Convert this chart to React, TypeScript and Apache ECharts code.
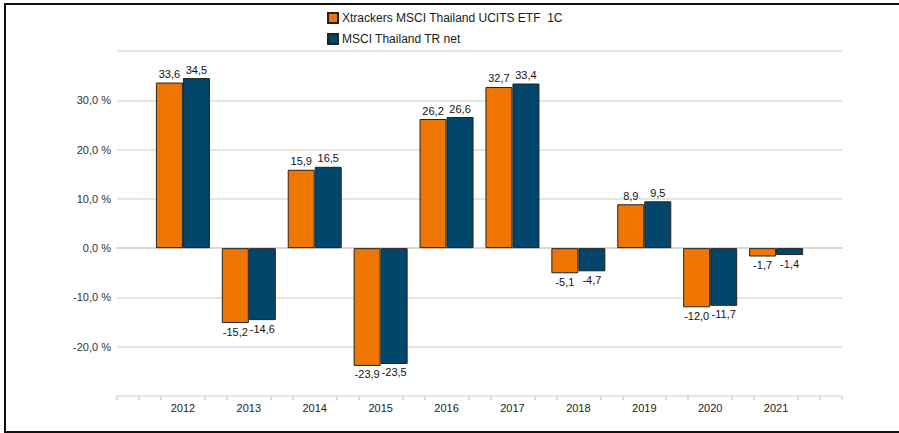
import React, { useEffect, useRef } from "react";
import * as echarts from "echarts";

const categories = ["2012", "2013", "2014", "2015", "2016", "2017", "2018", "2019", "2020", "2021"];
const fundName = "Xtrackers MSCI Thailand UCITS ETF  1C";
const indexName = "MSCI Thailand TR net";
const fundValues = [33.6, -15.2, 15.9, -23.9, 26.2, 32.7, -5.1, 8.9, -12.0, -1.7];
const indexValues = [34.5, -14.6, 16.5, -23.5, 26.6, 33.4, -4.7, 9.5, -11.7, -1.4];
const yMin = -30;
const yMax = 40;
const yStep = 10;

const FONT = "Liberation Sans, Arial, sans-serif";

function fmt(v: number) {
  return v.toFixed(1).replace(".", ",");
}

function toData(values: number[]) {
  return [
    null,
    ...values.map((v) => ({
      value: v,
      label: { position: v < 0 ? "bottom" : "top" },
    })),
    null,
  ];
}

export default function App() {
  const ref = useRef<HTMLDivElement>(null);
  useEffect(() => {
    if (!ref.current) return;
    const chart = echarts.init(ref.current, undefined, { renderer: "svg" });
    const axisData = ["", ...categories, ""];
    const n = axisData.length - 1;
    const tickValues: number[] = [];
    for (let k = 0; k <= n * 3; k++) {
      if (k % 3 !== 0 || k === 0 || k === n * 3) tickValues.push(k / 3);
    }
    const barLabel = {
      show: true,
      formatter: (p: any) => fmt(p.value),
      fontSize: 11,
      color: "#111",
      fontFamily: FONT,
      distance: 3,
    };
    chart.setOption({
      animation: false,
      textStyle: { fontFamily: FONT },
      legend: {
        orient: "vertical",
        left: 327,
        top: 12,
        padding: 0,
        itemWidth: 10,
        itemHeight: 10,
        itemGap: 9,
        icon: "rect",
        textStyle: { fontSize: 12, color: "#1a1a1a", fontFamily: FONT, padding: [0, 0, 0, -1] },
        data: [fundName, indexName],
      },
      grid: { left: 117, right: 57, top: 51, bottom: 37, containLabel: false },
      xAxis: [
        {
          type: "category",
          data: axisData,
          boundaryGap: false,
          axisLine: { show: true, lineStyle: { color: "#dcd8d0", width: 2 } },
          axisTick: { show: false },
          axisLabel: {
            interval: 0,
            fontSize: 11,
            color: "#222",
            fontFamily: FONT,
            margin: 6,
          },
          splitLine: { show: false },
        },
        {
          type: "value",
          min: 0,
          max: n,
          position: "bottom",
          axisLine: { show: false },
          axisLabel: { show: false },
          splitLine: { show: false },
          axisTick: {
            show: true,
            customValues: tickValues,
            length: 4,
            lineStyle: { color: "#d4d0c8", width: 1.5 },
          },
        },
      ],
      yAxis: {
        type: "value",
        min: yMin,
        max: yMax,
        interval: yStep,
        axisLine: { show: false },
        axisTick: { show: false },
        splitLine: { show: true, lineStyle: { color: "#e0ddd6", width: 1.5 } },
        axisLabel: {
          fontSize: 11,
          color: "#333",
          fontFamily: FONT,
          margin: 6,
          formatter: (v: number) => (v === yMax || v === yMin ? "" : fmt(v) + " %"),
        },
      },
      series: [
        {
          name: fundName,
          type: "bar",
          xAxisIndex: 0,
          data: toData(fundValues),
          barWidth: 27,
          barGap: "0%",
          itemStyle: { color: "#ef7603", borderColor: "#222", borderWidth: 1 },
          label: barLabel,
        },
        {
          name: indexName,
          type: "bar",
          xAxisIndex: 0,
          data: toData(indexValues),
          barWidth: 27,
          barGap: "0%",
          itemStyle: { color: "#02476b", borderColor: "#222", borderWidth: 1 },
          label: barLabel,
        },
      ],
    });
    return () => chart.dispose();
  }, []);
  return (
    <div style={{ position: "fixed", left: 0, top: 0, width: 899, height: 433, background: "#fff" }}>
      <div
        style={{
          position: "absolute",
          left: 4,
          top: 3,
          width: 910,
          height: 426,
          borderTop: "2px solid #111",
          borderLeft: "2px solid #111",
          borderBottom: "2px solid #111",
        }}
      />
      <div ref={ref} style={{ position: "absolute", left: 0, top: 0, width: 899, height: 433 }} />
    </div>
  );
}
